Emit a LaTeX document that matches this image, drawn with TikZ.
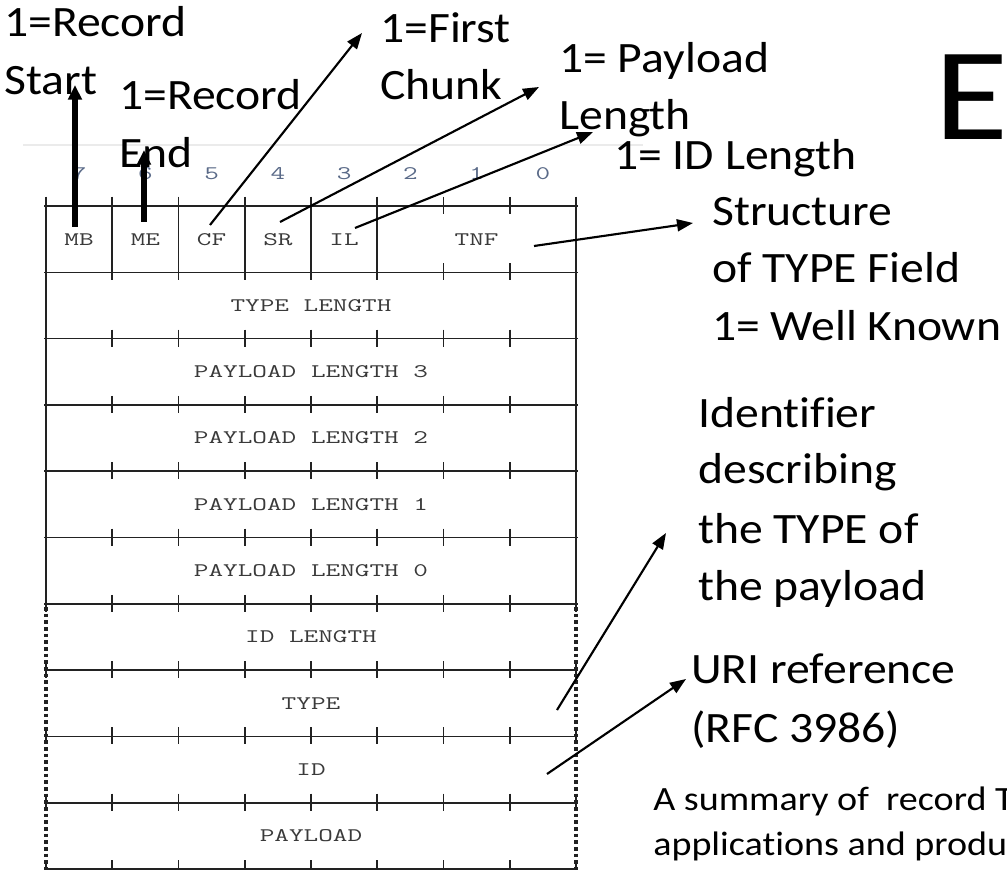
\documentclass[tikz,border=0pt]{standalone}
\usepackage{fontspec}
\usepackage{graphicx}
\setmainfont{Carlito}[Ligatures=NoCommon]
\usetikzlibrary{arrows.meta}
\definecolor{lbl}{HTML}{3A3A3A}
\definecolor{bitc}{HTML}{5A6A88}
\definecolor{tbl}{HTML}{222222}
\newcommand{\fld}[1]{\scalebox{1.48}[1]{\ttfamily\fontsize{14.4}{16}\selectfont #1}}
\newcommand{\bt}[1]{\scalebox{1.1}[1]{#1}}
\newcommand{\st}[1]{\scalebox{1.12}[1]{#1}}
\begin{document}
\begin{tikzpicture}[x=0.75pt,y=-0.75pt,
  tbline/.style={draw=tbl, line width=1.2pt},
  dotedge/.style={draw=tbl, line width=2.3pt, dash pattern=on 2.8pt off 2.2pt},
  bignote/.style={anchor=base west, inner sep=0pt, font=\fontsize{32.5}{39}\selectfont},
  smallnote/.style={anchor=base west, inner sep=0pt, font=\fontsize{25.5}{30}\selectfont},
  field/.style={inner sep=0pt, text=lbl},
  bitno/.style={inner sep=0pt, text=bitc},
  thinarrow/.style={draw=black, line width=1.6pt, -{Triangle[length=12pt,width=9pt]}},
  thickarrow/.style={draw=black, line width=4.5pt, -{Triangle[length=11pt,width=10pt]}},
]
\useasboundingbox (0,0) rectangle (1007,870);
\clip (0,0) rectangle (1007,870);
\fill[white] (0,0) rectangle (1007,870);
% faint slide line
\draw[black!8, line width=1pt] (23,145) -- (643,145);

% table grid
\foreach \k in {0,...,10} {
  \pgfmathsetmacro\yy{206+66.3*\k}
  \draw[tbline] (44,\yy) -- (578,\yy);
  \foreach \i in {0,...,8} {
    \pgfmathsetmacro\xx{46+66.25*\i}
    \draw[tbline] (\xx,\yy-9) -- (\xx,\yy+8);
  }
}
\foreach \i in {1,...,5} {
  \pgfmathsetmacro\xx{46+66.25*\i}
  \draw[tbline] (\xx,197) -- (\xx,280.3);
}
\draw[tbline] (46,197) -- (46,604.1);
\draw[tbline] (576,197) -- (576,604.1);
\draw[dotedge] (46,607) -- (46,869);
\draw[dotedge] (576,607) -- (576,869);

% bit numbers
\node[bitno] (b7) at (79.1,174) {\fld{7}};
\node[bitno] (b6) at (145.4,174) {\fld{6}};
\node[bitno] (b5) at (211.6,174) {\fld{5}};
\node[bitno] (b4) at (277.9,174) {\fld{4}};
\node[bitno] (b3) at (344.1,174) {\fld{3}};
\node[bitno] (b2) at (410.4,174) {\fld{2}};
\node[bitno] (b1) at (476.6,174) {\fld{1}};
\node[bitno] (b0) at (542.9,174) {\fld{0}};

% field labels
\node[field] (mb) at (79.1,239.2) {\fld{MB}};
\node[field] (me) at (145.4,239.2) {\fld{ME}};
\node[field] (cf) at (211.6,239.2) {\fld{CF}};
\node[field] (sr) at (277.9,239.2) {\fld{SR}};
\node[field] (il) at (344.1,239.2) {\fld{IL}};
\node[field] (tnf) at (476.6,239.2) {\fld{TNF}};
\node[field] (typelen) at (311,305.5) {\fld{TYPE LENGTH}};
\node[field] (pl3) at (311,371.8) {\fld{PAYLOAD LENGTH 3}};
\node[field] (pl2) at (311,438.1) {\fld{PAYLOAD LENGTH 2}};
\node[field] (pl1) at (311,504.4) {\fld{PAYLOAD LENGTH 1}};
\node[field] (pl0) at (311,570.7) {\fld{PAYLOAD LENGTH 0}};
\node[field] (idlen) at (311,637) {\fld{ID LENGTH}};
\node[field] (type) at (311,703.3) {\fld{TYPE}};
\node[field] (id) at (311,769.6) {\fld{ID}};
\node[field] (payload) at (311,835.9) {\fld{PAYLOAD}};

% annotations
\node[bignote] (rsA) at (4,37) {\bt{1=Record}};
\node[bignote] (rsB) at (4,95) {\bt{Start}};
\node[bignote] (reA) at (119,110) {\bt{1=Record}};
\node[bignote] (reB) at (119,168) {\bt{End}};
\node[bignote] (fcA) at (380,43) {\bt{1=First}};
\node[bignote] (fcB) at (380,100) {\bt{Chunk}};
\node[bignote] (plA) at (559,73) {\bt{1= Payload}};
\node[bignote] (plB) at (559,130) {\bt{Length}};
\node[bignote] (idl) at (614,170) {\bt{1= ID Length}};
\node[bignote] (stA) at (712,225) {\bt{Structure}};
\node[bignote] (stB) at (712,282) {\bt{of TYPE Field}};
\node[bignote] (stC) at (712,340) {\bt{1= Well Known}};
\node[anchor=base west, inner sep=0pt, font=\fontsize{99}{110}\selectfont] (bigE) at (934,140) {\scalebox{1.15}[1]{E}};
\node[bignote] (idfA) at (698,427) {\bt{Identifier}};
\node[bignote] (idfB) at (698,483) {\bt{describing}};
\node[bignote] (idfC) at (698,543) {\bt{the TYPE of}};
\node[bignote] (idfD) at (698,600) {\bt{the payload}};
\node[bignote] (uriA) at (691,683) {\bt{URI reference}};
\node[bignote] (uriB) at (691,742) {\bt{(RFC 3986)}};
\node[smallnote] (sumA) at (653,810) {\st{A summary of\ \ record T}};
\node[smallnote] (sumB) at (653,855) {\st{applications and produc}};

% arrow end points
\coordinate (mbS) at (75,227);   \coordinate (mbT) at (75,85);
\coordinate (meS) at (144,222);  \coordinate (meT) at (144,150);
\coordinate (cfS) at (210,225);  \coordinate (cfT) at (362,33);
\coordinate (srS) at (280,222);  \coordinate (srT) at (539,87);
\coordinate (ilS) at (355,228);  \coordinate (ilT) at (593,132);
\coordinate (tnS) at (534,246);  \coordinate (tnT) at (693,223);
\coordinate (tyS) at (557,710);  \coordinate (tyT) at (666,533);
\coordinate (idS) at (547,774);  \coordinate (idT) at (686,679);

\draw[thickarrow] (mbS) -- (mbT);
\draw[thickarrow] (meS) -- (meT);
\draw[thinarrow] (cfS) -- (cfT);
\draw[thinarrow] (srS) -- (srT);
\draw[thinarrow] (ilS) -- (ilT);
\draw[thinarrow] (tnS) -- (tnT);
\draw[thinarrow] (tyS) -- (tyT);
\draw[thinarrow] (idS) -- (idT);
\end{tikzpicture}
\end{document}
